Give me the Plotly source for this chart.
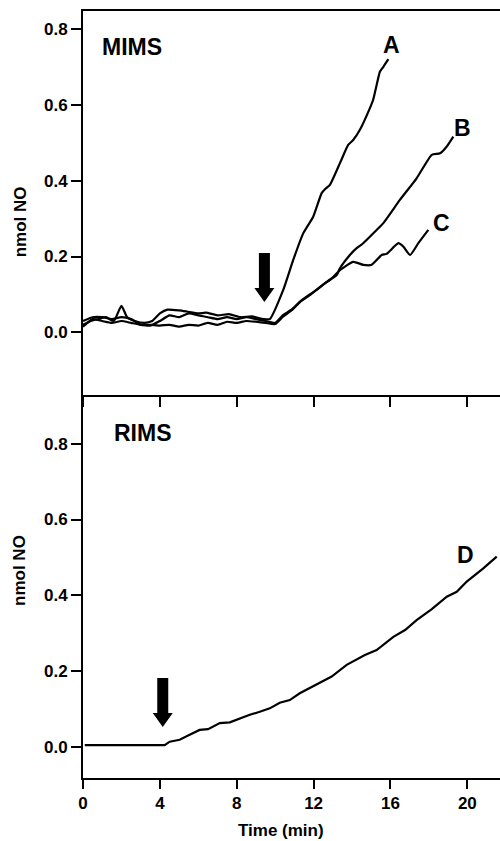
import plotly.graph_objects as go

# ---------------- data ----------------
# MIMS panel (top)
a_time = [0.0, 0.4, 0.8, 1.2, 1.6, 2.0, 2.3, 2.7, 3.2, 3.6, 4.0, 4.4, 5.0, 5.4, 6.0, 6.4, 7.0,
          7.6, 8.2, 8.8, 9.4, 9.72, 10.42, 10.94, 11.46, 11.98, 12.42, 12.59, 12.85, 13.37,
          13.8, 14.06, 14.41, 14.93, 15.1, 15.28, 15.45, 15.63, 15.89]
a_no = [0.02, 0.03, 0.035, 0.04, 0.03, 0.07, 0.04, 0.03, 0.025, 0.03, 0.05, 0.06, 0.058,
        0.055, 0.05, 0.052, 0.045, 0.048, 0.04, 0.042, 0.035, 0.035, 0.112, 0.191, 0.261,
        0.305, 0.367, 0.377, 0.389, 0.446, 0.494, 0.507, 0.534, 0.591, 0.613, 0.652, 0.687,
        0.70, 0.720]

b_time = [0.0, 0.5, 1.0, 1.5, 2.0, 2.5, 3.0, 3.5, 4.0, 4.5, 5.0, 5.5, 6.0, 6.5, 7.0, 7.5,
          8.0, 8.5, 9.0, 9.5, 10.0, 10.42, 10.9, 11.29, 11.8, 12.16, 12.6, 12.85, 13.2,
          13.37, 13.89, 14.24, 14.58, 15.28, 15.63, 16.49, 17.36, 18.15, 18.58, 18.93, 19.27]
b_no = [0.03, 0.04, 0.04, 0.035, 0.04, 0.035, 0.02, 0.018, 0.03, 0.045, 0.04, 0.05, 0.045,
        0.04, 0.035, 0.04, 0.035, 0.04, 0.035, 0.03, 0.025, 0.046, 0.062, 0.081, 0.10,
        0.112, 0.13, 0.138, 0.151, 0.169, 0.204, 0.222, 0.235, 0.270, 0.288, 0.349, 0.406,
        0.468, 0.472, 0.490, 0.516]

c_time = [0.0, 0.5, 1.0, 1.5, 2.0, 2.5, 3.0, 3.5, 4.0, 4.5, 5.0, 5.5, 6.0, 6.5, 7.0, 7.5,
          8.0, 8.5, 9.0, 9.5, 10.0, 10.42, 10.9, 11.29, 11.8, 12.16, 12.6, 13.0, 13.37,
          14.06, 14.58, 15.02, 15.54, 15.8, 16.41, 16.67, 17.02, 17.45, 17.97]
c_no = [0.015, 0.035, 0.03, 0.025, 0.03, 0.025, 0.02, 0.02, 0.018, 0.02, 0.015, 0.02, 0.018,
        0.025, 0.02, 0.028, 0.025, 0.03, 0.028, 0.025, 0.022, 0.042, 0.06, 0.08, 0.098,
        0.113, 0.13, 0.145, 0.164, 0.186, 0.178, 0.178, 0.204, 0.207, 0.235, 0.226, 0.204,
        0.235, 0.270]

# RIMS panel (bottom)
d_time = [0.09, 1.0, 2.0, 3.0, 4.25, 4.51, 5.03, 5.55, 6.07, 6.51, 7.12, 7.64, 8.16, 8.68,
          9.2, 9.72, 10.24, 10.76, 11.28, 12.07, 12.94, 13.72, 14.67, 15.28, 16.15, 16.76,
          17.36, 18.15, 18.93, 19.45, 19.97, 20.83, 21.53]
d_no = [0.004, 0.004, 0.004, 0.004, 0.004, 0.013, 0.018, 0.031, 0.044, 0.046, 0.062, 0.064,
        0.075, 0.084, 0.092, 0.101, 0.116, 0.123, 0.141, 0.163, 0.185, 0.216, 0.242, 0.255,
        0.290, 0.308, 0.334, 0.363, 0.396, 0.409, 0.436, 0.471, 0.502]

x_ticks = [0, 4, 8, 12, 16, 20]
y_ticks = [0.0, 0.2, 0.4, 0.6, 0.8]

# ---------------- figure ----------------
FONT = "Liberation Sans, Arial, sans-serif"
line_style = dict(color="black", width=2.2, shape="spline", smoothing=0.5)

fig = go.Figure()
for xs, ys in [(a_time, a_no), (b_time, b_no), (c_time, c_no)]:
    fig.add_trace(go.Scatter(x=xs, y=ys, mode="lines", line=line_style,
                             xaxis="x2", yaxis="y2", showlegend=False, hoverinfo="skip"))
fig.add_trace(go.Scatter(x=d_time, y=d_no, mode="lines",
                         line=dict(color="black", width=2.2),
                         xaxis="x", yaxis="y", showlegend=False, hoverinfo="skip"))

split = 383 / 767
axis_common = dict(showline=True, linecolor="black", linewidth=2, ticks="outside",
                   tickcolor="black", tickwidth=2, showgrid=False, zeroline=False,
                   tickfont=dict(family=FONT, size=17, color="black", weight="bold"))

fig.update_layout(
    width=500, height=841,
    margin=dict(l=83, r=0, t=11, b=63),
    paper_bgcolor="white", plot_bgcolor="white",
    font=dict(family=FONT, color="black"),
    xaxis=dict(domain=[0, 1], anchor="y", range=[0, 21.7], tickvals=x_ticks,
               ticklen=9, **axis_common),
    yaxis=dict(domain=[0, split], anchor="x", range=[-0.083, 0.929], tickvals=y_ticks,
               tickformat=".1f", ticklen=10, **axis_common),
    xaxis2=dict(domain=[0, 1], anchor="y2", range=[0, 21.7], tickvals=x_ticks,
                showticklabels=False, ticklen=10, mirror=True, **axis_common),
    yaxis2=dict(domain=[split, 1], anchor="x2", range=[-0.165, 0.847], tickvals=y_ticks,
                tickformat=".1f", ticklen=10, **axis_common),
)

big = dict(family=FONT, size=23, color="black", weight="bold")
mid = dict(family=FONT, size=17, color="black", weight="bold")
annotations = [
    dict(text="MIMS", x=0.87, y=0.753, xref="x2", yref="y2", xanchor="left", font=big),
    dict(text="RIMS", x=1.49, y=0.828, xref="x", yref="y", xanchor="left", font=big),
    dict(text="A", x=16.06, y=0.758, xref="x2", yref="y2", font=big),
    dict(text="B", x=19.77, y=0.539, xref="x2", yref="y2", font=big),
    dict(text="C", x=18.65, y=0.288, xref="x2", yref="y2", font=big),
    dict(text="D", x=19.93, y=0.506, xref="x", yref="y", font=big),
    dict(text="nmol NO", textangle=-90, x=20, y=0.29, xref="paper", yref="y2", font=mid),
    dict(text="nmol NO", textangle=-90, x=20, y=0.464, xref="paper", yref="y", font=mid),
    dict(text="Time (min)", x=10.3, y=830, xref="x", yref="paper", font=mid),
]
for ann in annotations:
    ann.setdefault("showarrow", False)
    ann.setdefault("xanchor", "center")
    ann.setdefault("yanchor", "middle")
    if ann["xref"] == "paper":
        ann["x"] = (ann["x"] - 83) / 417
    if ann["yref"] == "paper":
        ann["y"] = (841 - 63 - ann["y"]) / 767
fig.update_layout(annotations=annotations)

arrow_path = "M0,0 L-10,14 L-5.5,14 L-5.5,49 L5.5,49 L5.5,14 L10,14 Z"
for xr, yr, xa, ya in [("x2", "y2", 9.44, 0.080), ("x", "y", 4.15, 0.052)]:
    fig.add_shape(type="path", xref=xr, yref=yr, xsizemode="pixel", ysizemode="pixel",
                  xanchor=xa, yanchor=ya, path=arrow_path,
                  fillcolor="black", line=dict(color="black", width=0))

fig.write_html("out.html")
